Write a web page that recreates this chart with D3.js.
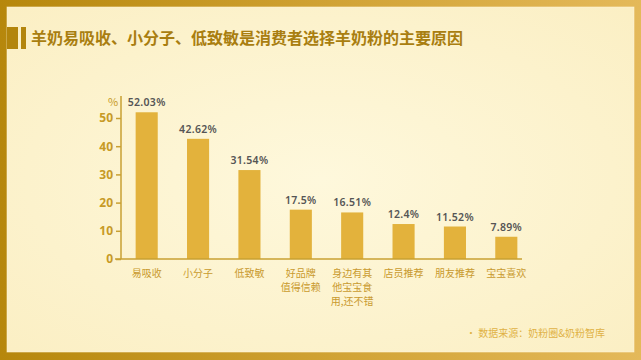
<!DOCTYPE html>
<html>
<head>
<meta charset="utf-8">
<script src="https://cdn.jsdelivr.net/npm/d3@7"></script>
<style>
  html, body { margin: 0; padding: 0; background: #fff; }
  svg { display: block; font-family: "Noto Sans CJK SC", "Noto Sans", sans-serif; }
</style>
</head>
<body>
<script>
var width = 641,
    height = 360;

// data
var categories = ["易吸收", "小分子", "低致敏", "好品牌值得信赖", "身边有其他宝宝食用,还不错", "店员推荐", "朋友推荐", "宝宝喜欢"];
var labelLines = [["易吸收"], ["小分子"], ["低致敏"], ["好品牌", "值得信赖"], ["身边有其", "他宝宝食", "用,还不错"], ["店员推荐"], ["朋友推荐"], ["宝宝喜欢"]];
var values = [52.03, 42.62, 31.54, 17.5, 16.51, 12.4, 11.52, 7.89];
var yTicks = [0, 10, 20, 30, 40, 50];
var title = "羊奶易吸收、小分子、低致敏是消费者选择羊奶粉的主要原因";
var source = "· 数据来源：奶粉圈&奶粉智库";

var gold = "#e3b23c",
    axisColor = "#c9a032",
    tickColor = "#c79a26";

var svg = d3.select("body").append("svg")
    .attr("width", width)
    .attr("height", height);

var defs = svg.append("defs");
var frameGrad = defs.append("linearGradient").attr("id", "frame")
    .attr("x1", "0%").attr("x2", "100%").attr("y1", "0%").attr("y2", "0%");
frameGrad.append("stop").attr("offset", "0%").attr("stop-color", "#b6870c");
frameGrad.append("stop").attr("offset", "55%").attr("stop-color", "#d2a437");
frameGrad.append("stop").attr("offset", "100%").attr("stop-color", "#e4b95a");

var paper = defs.append("radialGradient").attr("id", "paper")
    .attr("cx", "50%").attr("cy", "50%").attr("r", "70%");
paper.append("stop").attr("offset", "0%").attr("stop-color", "#fef8dc");
paper.append("stop").attr("offset", "100%").attr("stop-color", "#fbefc4");

// frame + paper
svg.append("rect").attr("width", width).attr("height", height).attr("fill", "url(#frame)");
svg.append("rect").attr("x", 7).attr("y", 7).attr("width", 627).attr("height", 345)
    .attr("fill", "url(#paper)");
svg.append("rect").attr("x", 7).attr("y", 7).attr("width", 627).attr("height", 345)
    .attr("fill", "none").attr("stroke", "#fff7dc").attr("stroke-width", 0.8).attr("opacity", 0.7);

// title marks
svg.append("rect").attr("x", 7).attr("y", 27).attr("width", 11).attr("height", 22).attr("fill", "#b3850c");
svg.append("rect").attr("x", 21).attr("y", 27).attr("width", 5).attr("height", 22).attr("fill", "#b3850c");
svg.append("text")
    .attr("x", 31).attr("y", 44)
    .attr("font-size", 16).attr("font-weight", "bold")
    .attr("fill", "#a97e10")
    .text(title);

// scales
var x = d3.scaleBand()
    .domain(categories)
    .range([121, 532])
    .paddingInner(0.57)
    .paddingOuter(0.285);

var y = d3.scaleLinear()
    .domain([0, 50])
    .range([259, 118]);

var g = svg.append("g");

// bars
g.selectAll("rect.bar")
    .data(values)
    .enter().append("rect")
    .attr("class", "bar")
    .attr("x", function (d, i) { return x(categories[i]); })
    .attr("y", function (d) { return y(d); })
    .attr("width", x.bandwidth())
    .attr("height", function (d) { return y(0) - y(d); })
    .attr("fill", gold);

// value labels
g.selectAll("text.val")
    .data(values)
    .enter().append("text")
    .attr("class", "val")
    .attr("x", function (d, i) { return x(categories[i]) + x.bandwidth() / 2; })
    .attr("y", function (d) { return y(d) - 6; })
    .attr("text-anchor", "middle")
    .attr("font-size", 10.5)
    .attr("font-weight", 600)
    .attr("letter-spacing", 0.3)
    .attr("font-family", "'Noto Sans', sans-serif")
    .attr("fill", "#555")
    .text(function (d) { return d + "%"; });

// y axis
var yAxis = d3.axisLeft(y).tickValues(yTicks).tickSize(5).tickPadding(3).tickFormat(d3.format("d"));
var ya = svg.append("g").attr("transform", "translate(121,0)").call(yAxis);
ya.select(".domain").remove();
ya.selectAll("line").attr("stroke", axisColor).attr("stroke-width", 1.5);
ya.selectAll("text")
    .attr("fill", tickColor)
    .attr("font-size", 12)
    .attr("font-weight", "bold")
    .attr("font-family", "'Noto Sans', sans-serif");
svg.append("line").attr("x1", 121).attr("x2", 121).attr("y1", 96).attr("y2", 259)
    .attr("stroke", axisColor).attr("stroke-width", 1.5);
svg.append("text").attr("x", 113).attr("y", 106).attr("text-anchor", "middle")
    .attr("font-size", 11).attr("fill", tickColor).text("%");

// x axis
svg.append("line").attr("x1", 115).attr("x2", 522).attr("y1", 259).attr("y2", 259)
    .attr("stroke", axisColor).attr("stroke-width", 1.5);

var xl = svg.append("g").selectAll("text.cat")
    .data(labelLines)
    .enter().append("text")
    .attr("class", "cat")
    .attr("text-anchor", "middle")
    .attr("font-size", 10)
    .attr("fill", "#c99a2e")
    .attr("transform", function (d, i) {
        return "translate(" + (x(categories[i]) + x.bandwidth() / 2) + ",277)";
    });
xl.selectAll("tspan")
    .data(function (d) { return d; })
    .enter().append("tspan")
    .attr("x", 0)
    .attr("dy", function (d, i) { return i === 0 ? 0 : 14; })
    .text(function (d) { return d; });

// source
svg.append("text")
    .attr("x", 605).attr("y", 337)
    .attr("text-anchor", "end")
    .attr("font-size", 10)
    .attr("fill", "#e0b245")
    .text(source);
</script>
</body>
</html>
